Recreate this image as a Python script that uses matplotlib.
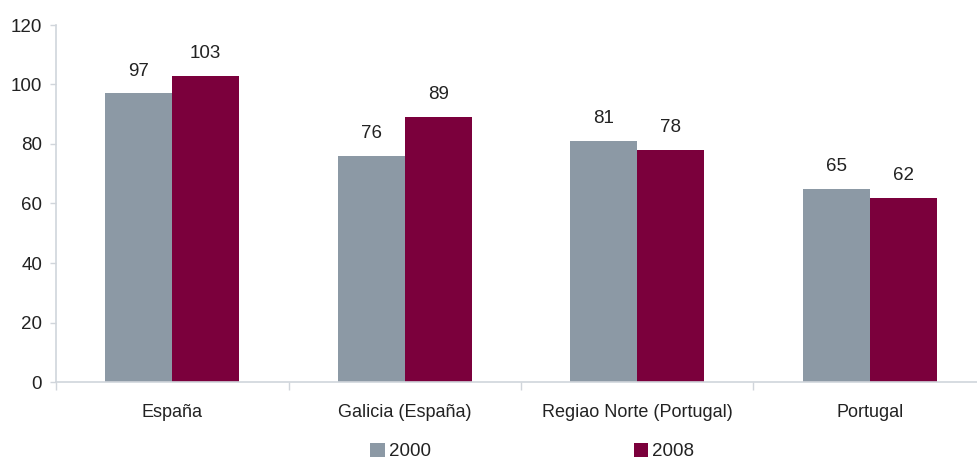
import numpy as np
import matplotlib.pyplot as plt
from matplotlib.patches import Patch

categories = ["España", "Galicia (España)", "Regiao Norte (Portugal)", "Portugal"]
values_2000 = [97, 76, 81, 65]
values_2008 = [103, 89, 78, 62]
series_labels = ["2000", "2008"]
y_ticks = [0, 20, 40, 60, 80, 100, 120]

color_2000 = "#8C99A5"
color_2008 = "#7B003C"
axis_color = "#D0D5DB"
text_color = "#222222"

plt.rcParams['font.family'] = ['Liberation Sans', 'DejaVu Sans']
plt.rcParams['font.size'] = 13

fig = plt.figure(figsize=(9.77, 4.61), dpi=100)
# axis runs a little past the right edge of the image, as in the original
ax = fig.add_axes([56 / 977, 1 - 382 / 461, 930 / 977, 357 / 461])

x = np.arange(len(categories))
width = 0.288

b1 = ax.bar(x - width / 2, values_2000, width, color=color_2000, label=series_labels[0])
b2 = ax.bar(x + width / 2, values_2008, width, color=color_2008, label=series_labels[1])

for rects in (b1, b2):
    for r in rects:
        ax.annotate(f"{int(r.get_height())}",
                    (r.get_x() + r.get_width() / 2, r.get_height()),
                    xytext=(0, 10), textcoords="offset points",
                    ha="center", va="bottom", color=text_color, fontsize=13.5)

ax.set_xlim(-0.5, len(categories) - 0.5)
ax.set_ylim(0, 120)
ax.set_yticks(y_ticks)

ax.set_xticks(x)
ax.set_xticklabels(categories)
ax.set_xticks(np.arange(len(categories) + 1) - 0.5, minor=True)
ax.tick_params(axis="x", which="major", length=0, pad=16, colors=text_color)
ax.tick_params(axis="x", which="minor", length=5.5, color=axis_color, width=1)
ax.tick_params(axis="y", length=4, color=axis_color, width=1, pad=6, labelcolor=text_color,
               labelsize=13.5)

for side in ("top", "right"):
    ax.spines[side].set_visible(False)
for side in ("left", "bottom"):
    ax.spines[side].set_color(axis_color)
    ax.spines[side].set_linewidth(1.2)

handles = [Patch(facecolor=color_2000, label=series_labels[0]),
           Patch(facecolor=color_2008, label=series_labels[1])]
fig.legend(handles=handles, loc="center", bbox_to_anchor=(0.545, 0.02), ncol=2,
           frameon=False, handlelength=0.75, handleheight=0.75, handletextpad=0.25,
           columnspacing=10.8, fontsize=13.5, labelcolor=text_color)

fig.savefig("out.png", dpi=100)
